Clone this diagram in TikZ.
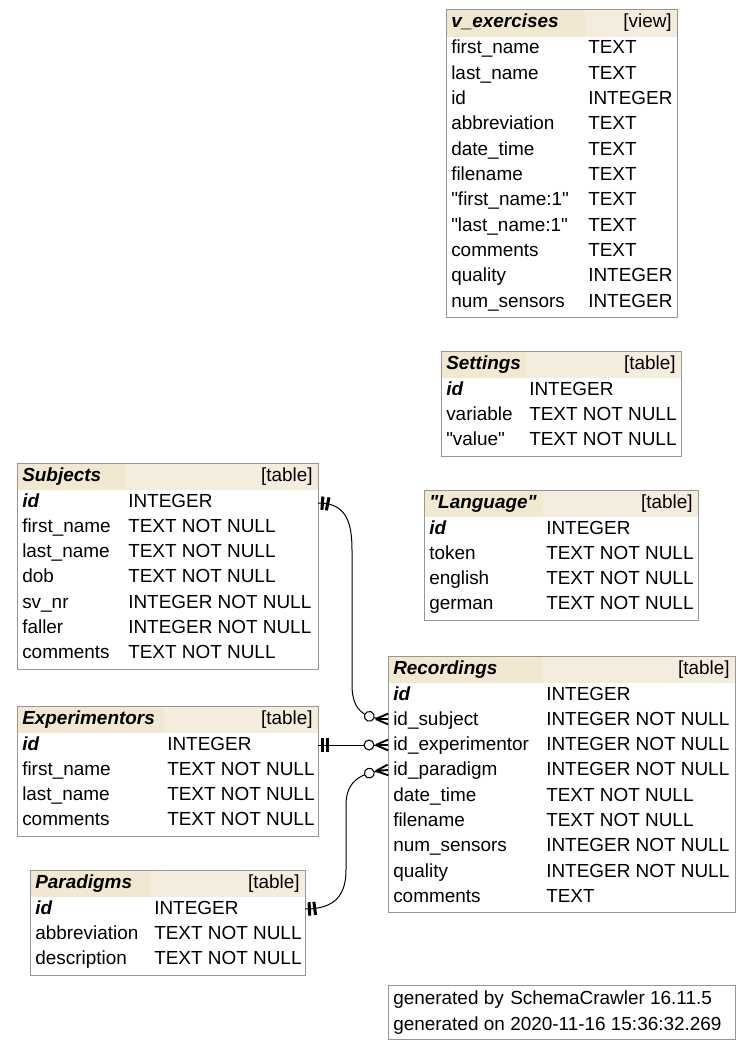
\documentclass[tikz,border=0pt]{standalone}
\usepackage{fontspec}
\setmainfont{Liberation Sans}[Ligatures=TeXOff]
\usepackage{tikz}
\usetikzlibrary{decorations.markings}
\definecolor{headbeige}{RGB}{242,232,210}
\definecolor{headbeigelt}{RGB}{244,237,221}
\definecolor{framegray}{RGB}{150,150,150}

\tikzset{
  frame/.style={draw=framegray, line width=0.75pt},
  headleft/.style={fill=headbeige},
  headright/.style={fill=headbeigelt},
  colname/.style={anchor=base west, inner sep=0pt},
  coltype/.style={anchor=base west, inner sep=0pt},
  keyname/.style={anchor=base west, inner sep=0pt, font=\fontsize{14.2}{17}\selectfont\bfseries\itshape},
  tblname/.style={keyname},
  tblkind/.style={anchor=base east, inner sep=0pt},
  fk/.style={line width=0.75pt, postaction={decorate}, decoration={markings,
     mark=at position 3.3pt with {\draw[line width=2.3pt] (0,-5pt) -- (0,5pt);},
     mark=at position 7.3pt with {\draw[line width=2.3pt] (0,-5pt) -- (0,5pt);},
     mark=at position -14.25pt with {\draw[line width=0.8pt, fill=white] (0,0) circle (3.7pt);},
     mark=at position -0.2pt with {\draw[line width=1.4pt] (-9pt,0) -- (0.2pt,4pt) (-9pt,0) -- (0.2pt,0) (-9pt,0) -- (0.2pt,-4pt);}}}
}

\begin{document}
\begin{tikzpicture}[x=0.75pt,y=0.75pt,yscale=-1,xscale=1,font=\fontsize{14.2}{17}\selectfont]
\useasboundingbox (0,0) rectangle (751,1049);

% v_exercises
\fill[headleft] (446,10) rectangle (585,37);
\fill[headright] (585,10) rectangle (677,37);
\draw[frame] (446,10) rectangle (677,317);
\node[tblname] (vex-title) at (451,28) {v\_exercises};
\node[tblkind] (vex-kind) at (672,28) {[view]};
\node[colname] (vex-n1) at (451,54) {first\_name};
\node[coltype] (vex-t1) at (588,54) {TEXT};
\node[colname] (vex-n2) at (451,79.3) {last\_name};
\node[coltype] (vex-t2) at (588,79.3) {TEXT};
\node[colname] (vex-n3) at (451,104.6) {id};
\node[coltype] (vex-t3) at (588,104.6) {INTEGER};
\node[colname] (vex-n4) at (451,129.9) {abbreviation};
\node[coltype] (vex-t4) at (588,129.9) {TEXT};
\node[colname] (vex-n5) at (451,155.2) {date\_time};
\node[coltype] (vex-t5) at (588,155.2) {TEXT};
\node[colname] (vex-n6) at (451,180.5) {filename};
\node[coltype] (vex-t6) at (588,180.5) {TEXT};
\node[colname] (vex-n7) at (451,205.8) {"first\_name:1"};
\node[coltype] (vex-t7) at (588,205.8) {TEXT};
\node[colname] (vex-n8) at (451,231.1) {"last\_name:1"};
\node[coltype] (vex-t8) at (588,231.1) {TEXT};
\node[colname] (vex-n9) at (451,256.4) {comments};
\node[coltype] (vex-t9) at (588,256.4) {TEXT};
\node[colname] (vex-n10) at (451,281.7) {quality};
\node[coltype] (vex-t10) at (588,281.7) {INTEGER};
\node[colname] (vex-n11) at (451,307) {num\_sensors};
\node[coltype] (vex-t11) at (588,307) {INTEGER};

% Settings
\fill[headleft] (441,351) rectangle (526,378);
\fill[headright] (526,351) rectangle (681,378);
\draw[frame] (441,351) rectangle (681,456);
\node[tblname] (set-title) at (446,369) {Settings};
\node[tblkind] (set-kind) at (676,369) {[table]};
\node[keyname] (set-n1) at (446,395) {id};
\node[coltype] (set-t1) at (529,395) {INTEGER};
\node[colname] (set-n2) at (446,420.3) {variable};
\node[coltype] (set-t2) at (529,420.3) {TEXT NOT NULL};
\node[colname] (set-n3) at (446,445.6) {"value"};
\node[coltype] (set-t3) at (529,445.6) {TEXT NOT NULL};

% Subjects
\fill[headleft] (17,463) rectangle (125,490);
\fill[headright] (125,463) rectangle (318,490);
\draw[frame] (17,463) rectangle (318,669);
\node[tblname] (subj-title) at (22,481) {Subjects};
\node[tblkind] (subj-kind) at (313,481) {[table]};
\node[keyname] (subj-n1) at (22,507) {id};
\node[coltype] (subj-t1) at (128,507) {INTEGER};
\node[colname] (subj-n2) at (22,532.3) {first\_name};
\node[coltype] (subj-t2) at (128,532.3) {TEXT NOT NULL};
\node[colname] (subj-n3) at (22,557.6) {last\_name};
\node[coltype] (subj-t3) at (128,557.6) {TEXT NOT NULL};
\node[colname] (subj-n4) at (22,582.9) {dob};
\node[coltype] (subj-t4) at (128,582.9) {TEXT NOT NULL};
\node[colname] (subj-n5) at (22,608.2) {sv\_nr};
\node[coltype] (subj-t5) at (128,608.2) {INTEGER NOT NULL};
\node[colname] (subj-n6) at (22,633.5) {faller};
\node[coltype] (subj-t6) at (128,633.5) {INTEGER NOT NULL};
\node[colname] (subj-n7) at (22,658.8) {comments};
\node[coltype] (subj-t7) at (128,658.8) {TEXT NOT NULL};

% "Language"
\fill[headleft] (424,490) rectangle (543,517);
\fill[headright] (543,490) rectangle (698,517);
\draw[frame] (424,490) rectangle (698,620);
\node[tblname] (lang-title) at (429,508) {"Language"};
\node[tblkind] (lang-kind) at (693,508) {[table]};
\node[keyname] (lang-n1) at (429,534) {id};
\node[coltype] (lang-t1) at (546,534) {INTEGER};
\node[colname] (lang-n2) at (429,559.3) {token};
\node[coltype] (lang-t2) at (546,559.3) {TEXT NOT NULL};
\node[colname] (lang-n3) at (429,584.6) {english};
\node[coltype] (lang-t3) at (546,584.6) {TEXT NOT NULL};
\node[colname] (lang-n4) at (429,609.9) {german};
\node[coltype] (lang-t4) at (546,609.9) {TEXT NOT NULL};

% Recordings
\fill[headleft] (388,656) rectangle (543,683);
\fill[headright] (543,656) rectangle (735,683);
\draw[frame] (388,656) rectangle (735,912);
\node[tblname] (rec-title) at (393,674) {Recordings};
\node[tblkind] (rec-kind) at (730,674) {[table]};
\node[keyname] (rec-n1) at (393,700) {id};
\node[coltype] (rec-t1) at (546,700) {INTEGER};
\node[colname] (rec-n2) at (393,725.3) {id\_subject};
\node[coltype] (rec-t2) at (546,725.3) {INTEGER NOT NULL};
\node[colname] (rec-n3) at (393,750.6) {id\_experimentor};
\node[coltype] (rec-t3) at (546,750.6) {INTEGER NOT NULL};
\node[colname] (rec-n4) at (393,775.9) {id\_paradigm};
\node[coltype] (rec-t4) at (546,775.9) {INTEGER NOT NULL};
\node[colname] (rec-n5) at (393,801.2) {date\_time};
\node[coltype] (rec-t5) at (546,801.2) {TEXT NOT NULL};
\node[colname] (rec-n6) at (393,826.5) {filename};
\node[coltype] (rec-t6) at (546,826.5) {TEXT NOT NULL};
\node[colname] (rec-n7) at (393,851.8) {num\_sensors};
\node[coltype] (rec-t7) at (546,851.8) {INTEGER NOT NULL};
\node[colname] (rec-n8) at (393,877.1) {quality};
\node[coltype] (rec-t8) at (546,877.1) {INTEGER NOT NULL};
\node[colname] (rec-n9) at (393,902.4) {comments};
\node[coltype] (rec-t9) at (546,902.4) {TEXT};

% Experimentors
\fill[headleft] (17,706) rectangle (164,733);
\fill[headright] (164,706) rectangle (318,733);
\draw[frame] (17,706) rectangle (318,836);
\node[tblname] (exp-title) at (22,724) {Experimentors};
\node[tblkind] (exp-kind) at (313,724) {[table]};
\node[keyname] (exp-n1) at (22,750) {id};
\node[coltype] (exp-t1) at (167,750) {INTEGER};
\node[colname] (exp-n2) at (22,775.3) {first\_name};
\node[coltype] (exp-t2) at (167,775.3) {TEXT NOT NULL};
\node[colname] (exp-n3) at (22,800.6) {last\_name};
\node[coltype] (exp-t3) at (167,800.6) {TEXT NOT NULL};
\node[colname] (exp-n4) at (22,825.9) {comments};
\node[coltype] (exp-t4) at (167,825.9) {TEXT NOT NULL};

% Paradigms
\fill[headleft] (30,870) rectangle (151,897);
\fill[headright] (151,870) rectangle (305,897);
\draw[frame] (30,870) rectangle (305,975);
\node[tblname] (par-title) at (35,888) {Paradigms};
\node[tblkind] (par-kind) at (300,888) {[table]};
\node[keyname] (par-n1) at (35,914) {id};
\node[coltype] (par-t1) at (154,914) {INTEGER};
\node[colname] (par-n2) at (35,939.3) {abbreviation};
\node[coltype] (par-t2) at (154,939.3) {TEXT NOT NULL};
\node[colname] (par-n3) at (35,964.6) {description};
\node[coltype] (par-t3) at (154,964.6) {TEXT NOT NULL};

% footer
\draw[frame] (388,985) rectangle (735,1039);
\node[colname] (gen-n1) at (393,1004) {generated by};
\node[coltype] (gen-t1) at (510,1004) {SchemaCrawler 16.11.5};
\node[colname] (gen-n2) at (393,1030) {generated on};
\node[coltype] (gen-t2) at (510,1030) {2020-11-16 15:36:32.269};

% links
\coordinate (subj-id-r) at (318,503);
\coordinate (exp-id-r) at (318,745);
\coordinate (par-id-r) at (305,909);
\coordinate (rec-idsubject-l) at (388,719);
\coordinate (rec-idexperimentor-l) at (388,745);
\coordinate (rec-idparadigm-l) at (388,770);

\draw[fk] (subj-id-r) .. controls (345,503) and (352,520) .. (352,550) -- (352,685) .. controls (352,712) and (366,719) .. (rec-idsubject-l);
\draw[fk] (exp-id-r) -- (rec-idexperimentor-l);
\draw[fk] (par-id-r) .. controls (335,909) and (346,895) .. (346,870) -- (346,805) .. controls (346,780) and (362,772) .. (rec-idparadigm-l);

\end{tikzpicture}
\end{document}
